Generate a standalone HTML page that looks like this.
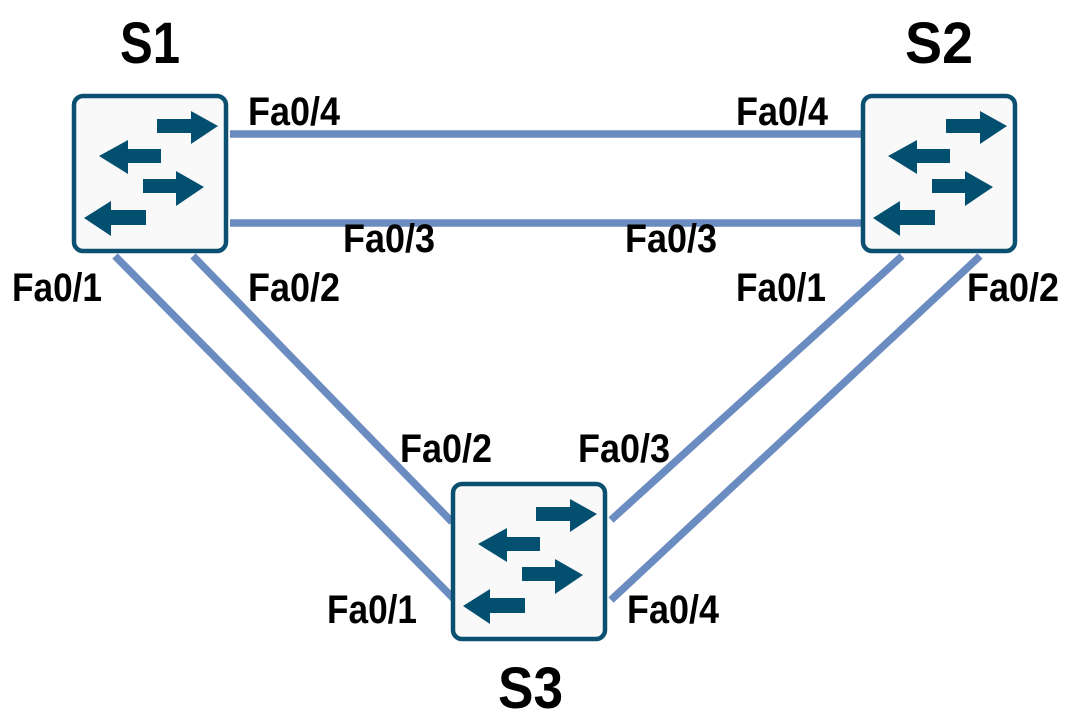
<!DOCTYPE html>
<html><head><meta charset="utf-8"><style>html,body{margin:0;padding:0;background:#fff}svg{display:block}</style></head><body>
<svg width="1077" height="727" viewBox="0 0 1077 727" xmlns="http://www.w3.org/2000/svg">
<defs>
<g id="sw">
<rect x="2" y="2" width="152" height="155" rx="9" fill="#f9f9f9" stroke="#0b5070" stroke-width="4.5"/>
<g fill="#034f70">
<polygon points="85,25 119,25 119,17 146,32 119,50 119,39 85,39"/>
<polygon points="89,55 56,55 56,46 27,62 56,80 56,69 89,69"/>
<polygon points="71,85 104,85 104,77 132,93 104,112 104,99 71,99"/>
<polygon points="74,116 39,116 39,107 12,124 39,142 39,131 74,131"/>
</g>
</g>
</defs>
<g stroke="#6b8cc0" stroke-width="7.5" fill="none">
<line x1="230" y1="134" x2="862" y2="134"/>
<line x1="230" y1="223" x2="862" y2="223"/>
<line x1="115" y1="256" x2="455" y2="600"/>
<line x1="193" y1="256" x2="452" y2="522"/>
<line x1="902" y1="256" x2="611" y2="520"/>
<line x1="980" y1="256" x2="611" y2="600"/>
</g>
<use href="#sw" x="72" y="94"/>
<use href="#sw" x="861" y="94"/>
<use href="#sw" x="451" y="482"/>
<g font-family="Liberation Sans, sans-serif" font-weight="bold" fill="#000">
<text x="120" y="63" font-size="58" textLength="60" lengthAdjust="spacingAndGlyphs">S1</text>
<text x="905" y="63" font-size="58" textLength="68" lengthAdjust="spacingAndGlyphs">S2</text>
<text x="498" y="708" font-size="58" textLength="65" lengthAdjust="spacingAndGlyphs">S3</text>
<g font-size="40">
<text x="248" y="125" textLength="92" lengthAdjust="spacingAndGlyphs">Fa0/4</text>
<text x="736" y="125" textLength="92" lengthAdjust="spacingAndGlyphs">Fa0/4</text>
<text x="343" y="252" textLength="92" lengthAdjust="spacingAndGlyphs">Fa0/3</text>
<text x="625" y="252" textLength="92" lengthAdjust="spacingAndGlyphs">Fa0/3</text>
<text x="12" y="301" textLength="90" lengthAdjust="spacingAndGlyphs">Fa0/1</text>
<text x="248" y="301" textLength="92" lengthAdjust="spacingAndGlyphs">Fa0/2</text>
<text x="736" y="301" textLength="90" lengthAdjust="spacingAndGlyphs">Fa0/1</text>
<text x="967" y="301" textLength="92" lengthAdjust="spacingAndGlyphs">Fa0/2</text>
<text x="400" y="462" textLength="92" lengthAdjust="spacingAndGlyphs">Fa0/2</text>
<text x="578" y="462" textLength="92" lengthAdjust="spacingAndGlyphs">Fa0/3</text>
<text x="327" y="623" textLength="90" lengthAdjust="spacingAndGlyphs">Fa0/1</text>
<text x="627" y="623" textLength="92" lengthAdjust="spacingAndGlyphs">Fa0/4</text>
</g>
</g>
</svg>
</body></html>
